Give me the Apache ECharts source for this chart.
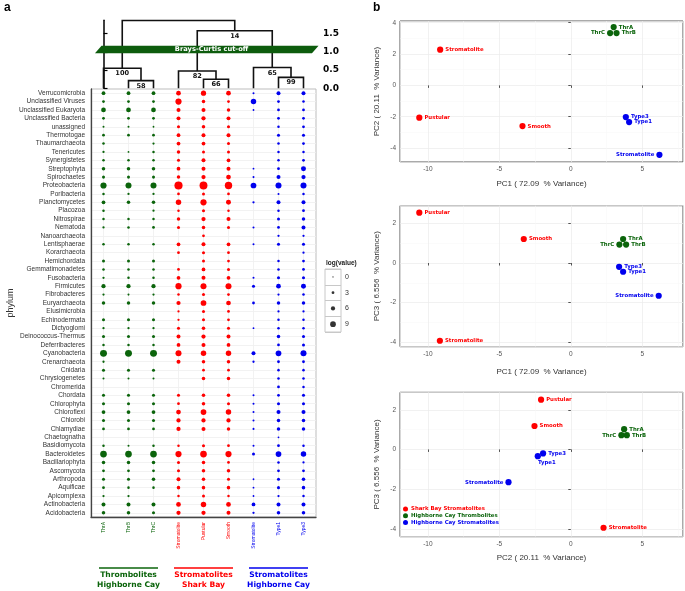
<!DOCTYPE html>
<html><head><meta charset="utf-8">
<script src="https://cdn.jsdelivr.net/npm/echarts@6/dist/echarts.min.js"></script>
<style>html,body{margin:0;padding:0;background:#fff}#c{width:685px;height:591px}</style>
</head><body><div id="c"></div>
<script>
// ---------- DATA ----------
const phyla = ['Verrucomicrobia','Unclassified Viruses','Unclassified Eukaryota','Unclassified Bacteria','unassigned','Thermotogae','Thaumarchaeota','Tenericutes','Synergistetes','Streptophyta','Spirochaetes','Proteobacteria','Poribacteria','Planctomycetes','Placozoa','Nitrospirae','Nematoda','Nanoarchaeota','Lentisphaerae','Korarchaeota','Hemichordata','Gemmatimonadetes','Fusobacteria','Firmicutes','Fibrobacteres','Euryarchaeota','Elusimicrobia','Echinodermata','Dictyoglomi','Deinococcus-Thermus','Deferribacteres','Cyanobacteria','Crenarchaeota','Cnidaria','Chrysiogenetes','Chromerida','Chordata','Chlorophyta','Chloroflexi','Chlorobi','Chlamydiae','Chaetognatha','Basidiomycota','Bacteroidetes','Bacillariophyta','Ascomycota','Arthropoda','Aquificae','Apicomplexa','Actinobacteria','Acidobacteria'];

const sampleIds = ['ThrA','ThrB','ThrC','StromSB','Pustular','Smooth','StromHC','Type1','Type3'];
const sampleLabels = ['ThrA','ThrB','ThrC','Stromatolite','Pustular','Smooth','Stromatolite','Type1','Type3'];
const sampleGroup = [0,0,0,1,1,1,2,2,2];
const groupNames = ['Highborne Cay Thrombolites','Shark Bay Stromatolites','Highborne Cay Stromatolites'];

// log(value) per phylum (same order as phyla), null = absent
const vThrA = [5,3,7,3,1.5,3,2.5,2,2.5,4.5,3.5,10,2.5,5,2.5,2.5,2,null,2.5,null,3.5,2.5,2,6,2,4.5,null,3.5,2,3.5,2.5,11.5,2,3.5,1.5,null,3.5,3.5,5,3.5,3,null,2.5,11,4.5,3,3.5,3,2,5.5,4.5];
const vThrB = [5,3,7,3,1.5,3,null,1,2.5,4.5,3.5,9.6,2,4.5,null,2.5,2.5,null,2.5,null,3.5,2.5,2.5,6,1.5,4.5,null,3.5,2,3.5,2.5,11.5,null,3.5,1.5,null,3.5,3.5,5,3.5,3,null,1.5,11,4.5,3,3.5,2.5,2,5.5,4.5];
const vThrC = [5,3,7,3,1,3,2,2.5,2.5,4.5,3.5,9.6,2,4.5,2,2.5,3,null,2.5,null,3.5,2.5,2.5,6,2,4.5,null,3.5,2,3.5,2.5,11.5,null,3.5,1.5,null,3.5,3.5,5,3.5,3,null,2.5,11,4.5,3,4.5,2.5,null,5.5,3.5];
const vStromSB = [7,10,5.5,5.5,3.5,5,5,4.5,3.5,5,4.5,14,3,8.5,2.5,4.5,3.5,null,5,3,null,3,5,10,2.5,6,2,2,3.5,5.5,5,9.6,5.5,null,null,null,3.5,3,7,6,6,null,2.5,10,3.5,3.5,5.5,4.5,2.5,7,6];
const vPustular = [8,4.5,5.5,6,4.5,5.5,5,3.5,5.5,5.5,6,13.5,3.5,10,3.5,6,4.5,3,5.5,3.5,3.5,5,5.5,9.6,3.5,9,3.5,3.5,4.5,6,5.5,8.5,4.5,3,4.5,null,4.5,4.5,9,6,5.5,null,3.5,11,4.5,4.5,4.5,4.5,3.5,8.5,6];
const vSmooth = [7,3,4.5,5.5,3.5,5.5,3.5,3.5,5,5.5,7,12.5,3,7.5,2.5,5.5,3.5,null,5,3,3,3.5,5,9.6,3,7,3,3,3.5,5.5,5,8.5,4.5,3,4.5,null,4.5,3.5,8.5,6,4.5,null,3,10,3,4.5,3.5,4.5,2.5,7,5.5];
const vStromHC = [1.5,8.5,1,null,null,null,null,null,null,1,1.5,9,null,2,null,null,1.5,null,1.5,null,null,null,1.5,3.5,null,3,null,null,1,null,null,5.5,2,null,null,null,1.5,1.5,1.5,1.5,1.5,null,1.5,3.5,null,null,1,1,1,5,2];
const vType1 = [5.5,3,3,3,2.5,3.5,2.5,2.5,2.5,3,5.5,9.6,1.5,5.5,2.5,3.5,3,2,3.5,null,2.5,2.5,3.5,7,2,4.5,2,2.5,2.5,4.5,3,9,3,2.5,2.5,3,3,3.5,5.5,4.5,4.5,1,3,9,2.5,3,3.5,3.5,2,5.5,4.5];
const vType3 = [5.5,2.5,3,3,3,3.5,3,2.5,3,7.5,6,9.6,2.5,5.5,3,4.5,5.5,2,3.5,2,3,3,3.5,7.5,2.5,4.5,2,2.5,2.5,3.5,3.5,9.6,3,2.5,2.5,2.5,3.5,3.5,5.5,4.5,4.5,null,2.5,8.5,2,3,4.5,4.5,2.5,5.5,4.5];
const sampleValues = [vThrA,vThrB,vThrC,vStromSB,vPustular,vSmooth,vStromHC,vType1,vType3];

const keyTicks = [0,3,6,9];

// dendrogram merges: [leftNode, rightNode, height, bootstrap]; leaves 0..8, merges numbered 9..16
const dendroMerges = [
  [1, 2, 0.21, '58'],
  [0, 9, 0.55, '100'],
  [4, 5, 0.25, '66'],
  [3, 11, 0.475, '82'],
  [7, 8, 0.30, '99'],
  [6, 13, 0.57, '65'],
  [12, 14, 1.58, '14'],
  [10, 15, 1.86, '']
];
const dendroTicks = [0, 0.5, 1.0, 1.5];
const cutoff = 1.065;

// PCA scores [x, y] per sample (sampleIds order)
const pcaPanel1 = [[3.0,3.72],[3.2,3.34],[2.75,3.34],[-9.14,2.28],[-10.6,-2.06],[-3.38,-2.6],[6.2,-4.43],[4.08,-2.34],[3.85,-2.02]];
const pcaPanel2 = [[3.66,1.21],[3.87,0.93],[3.4,0.93],[-9.16,-3.92],[-10.6,2.54],[-3.29,1.21],[6.15,-1.65],[3.66,-0.44],[3.38,-0.19]];
const pcaPanel3 = [[3.73,1.02],[3.92,0.72],[3.54,0.72],[2.29,-3.95],[-2.08,2.51],[-2.54,1.18],[-4.36,-1.65],[-2.31,-0.34],[-1.94,-0.2]];
const pcaNames = [['PC1 ( 72.09  % Variance)','PC2 ( 20.11  % Variance)'],['PC1 ( 72.09  % Variance)','PC3 ( 6.556  % Variance)'],['PC2 ( 20.11  % Variance)','PC3 ( 6.556  % Variance)']];

// ---------- STYLE ----------
const FONT = '"Liberation Sans", Arial, sans-serif';
const BOLD = '"DejaVu Sans", sans-serif';
const groupColors = ['#0b640b','#ff0000','#0000ee'];
const legendOrder = [1,0,2];
const labelLeft = [ {ThrC:1, StromHC:1}, {ThrC:1, StromHC:1}, {ThrC:1, StromHC:1} ];
const labelOffset = [ {}, {}, {Type1:[-5,6]} ];
const bubbleSize = v => 1.3 + 0.49 * v;

const pcaGrids = [
  {left:400, width:283, top:21, height:141, ymin:-4.89, ymax:4.11, gap:18},
  {left:400, width:283, top:205.7, height:141, ymin:-4.22, ymax:2.89, gap:21},
  {left:400, width:283, top:392.3, height:144.4, ymin:-4.4, ymax:2.88, gap:17}
];
const pcaData = [pcaPanel1, pcaPanel2, pcaPanel3];

// ---------- BUILD ----------
const chart = echarts.init(document.getElementById('c'), null, {renderer:'canvas'});

const grids = [
  {left:91, width:225, top:89, height:428, show:true, borderColor:'#bdbdbd', borderWidth:1},
  {left:91, width:225, top:20.2, height:68.1},
  {left:325, width:16, top:269, height:63, show:true, borderColor:'#c8c8c8', borderWidth:1}
];
pcaGrids.forEach(g => grids.push({left:g.left, width:g.width, top:g.top, height:g.height, show:true, borderColor:'#555', borderWidth:1}));

const xAxes = [
  {gridIndex:0, type:'category', data:sampleIds, boundaryGap:true,
   axisLine:{lineStyle:{color:'#444', width:1.3}},
   axisTick:{alignWithLabel:true, length:3, lineStyle:{color:'#444'}},
   axisLabel:{rotate:90, fontSize:5, fontFamily:FONT, margin:5, interval:0,
     formatter:(v,i)=>sampleLabels[i], color:(v,i)=>groupColors[sampleGroup[i]]},
   splitLine:{show:true, alignWithLabel:true, lineStyle:{color:'#efefef', width:0.8}}},
  {gridIndex:1, type:'value', min:-0.5, max:8.5, show:false},
  {gridIndex:2, type:'category', data:['k'], show:false}
];
const yAxes = [
  {gridIndex:0, type:'category', data:phyla, inverse:true, boundaryGap:true,
   name:'phylum', nameLocation:'middle', nameGap:76, nameTextStyle:{fontSize:9, color:'#333', fontFamily:FONT},
   axisLine:{lineStyle:{color:'#444', width:1.3}},
   axisTick:{alignWithLabel:true, length:3, lineStyle:{color:'#444'}},
   axisLabel:{fontSize:6.5, fontFamily:FONT, color:'#333', margin:6, interval:0},
   splitLine:{show:true, alignWithLabel:true, lineStyle:{color:'#efefef', width:0.8}}},
  {gridIndex:1, type:'value', min:0, max:1.87, position:'right', offset:4,
   axisLine:{show:true, lineStyle:{color:'#000', width:1.5}},
   axisTick:{show:true, length:4, customValues:dendroTicks, lineStyle:{color:'#000', width:1.2}},
   axisLabel:{customValues:dendroTicks, formatter:v=>Number(v).toFixed(1), fontSize:9, fontWeight:'bold', fontFamily:BOLD, color:'#000', margin:3},
   splitLine:{show:false}},
  {gridIndex:2, type:'category', data:keyTicks.map(String), inverse:true, position:'right',
   axisLine:{show:false}, axisTick:{show:false},
   axisLabel:{fontSize:7, fontFamily:FONT, color:'#333', margin:4},
   splitLine:{show:true, lineStyle:{color:'#c8c8c8'}}}
];
pcaGrids.forEach((g, p) => {
  xAxes.push({gridIndex:3+p, type:'value', min:-11.95, max:7.85, splitNumber:4,
    name:pcaNames[p][0], nameLocation:'middle', nameGap:g.gap,
    nameTextStyle:{fontSize:8, color:'#333', fontFamily:FONT},
    axisLine:{show:false}, axisTick:{show:true, length:2.5, lineStyle:{color:'#555'}},
    axisLabel:{fontSize:6.5, color:'#555', fontFamily:FONT, margin:4, showMinLabel:false, showMaxLabel:false},
    splitLine:{show:true, lineStyle:{color:'#ebebeb', width:0.7}},
    minorTick:{show:false, splitNumber:2},
    minorSplitLine:{show:true, lineStyle:{color:'#f6f6f6', width:0.5}}});
  yAxes.push({gridIndex:3+p, type:'value', min:g.ymin, max:g.ymax, splitNumber:4,
    name:pcaNames[p][1], nameLocation:'middle', nameGap:19,
    nameTextStyle:{fontSize:8, color:'#333', fontFamily:FONT},
    axisLine:{show:false}, axisTick:{show:true, length:2.5, lineStyle:{color:'#555'}},
    axisLabel:{fontSize:6.5, color:'#555', fontFamily:FONT, margin:4, showMinLabel:false, showMaxLabel:false},
    splitLine:{show:true, lineStyle:{color:'#ebebeb', width:0.7}},
    minorTick:{show:false, splitNumber:2},
    minorSplitLine:{show:true, lineStyle:{color:'#f6f6f6', width:0.5}}});
});

const series = [];
// bubbles
[0,1,2].forEach(g => {
  const data = [];
  sampleValues.forEach((arr, s) => {
    if (sampleGroup[s] !== g) return;
    arr.forEach((v, r) => { if (v !== null) data.push([s, r, v]); });
  });
  series.push({type:'scatter', name:'bubbles-'+g, xAxisIndex:0, yAxisIndex:0, data,
    symbolSize:d=>bubbleSize(d[2]), itemStyle:{color:groupColors[g], opacity:1}, z:3});
});
// key
series.push({type:'scatter', name:'key', xAxisIndex:2, yAxisIndex:2,
  data:keyTicks.map((v,i)=>[0,i,v]), symbolSize:d=>bubbleSize(d[2]), itemStyle:{color:'#000'}});

// dendrogram
const nodeX = sampleIds.map((_,i)=>i), nodeH = sampleIds.map(()=>0);
const dendroData = dendroMerges.map(m => {
  const [a,b,h] = m;
  const item = [nodeX[a], nodeH[a], nodeX[b], nodeH[b], h];
  nodeX.push((nodeX[a]+nodeX[b])/2); nodeH.push(h);
  return item;
});
series.push({type:'custom', name:'dendro', xAxisIndex:1, yAxisIndex:1, clip:false, z:2,
  data:dendroData,
  renderItem:(params, api) => {
    const p1 = api.coord([api.value(0), api.value(1)]);
    const p2 = api.coord([api.value(0), api.value(4)]);
    const p3 = api.coord([api.value(2), api.value(4)]);
    const p4 = api.coord([api.value(2), api.value(3)]);
    const children = [{type:'polyline', shape:{points:[p1,p2,p3,p4]}, style:{stroke:'#111', lineWidth:1.6, fill:null}}];
    const lab = dendroMerges[params.dataIndex][3];
    if (lab) children.push({type:'text', x:(p2[0]+p3[0])/2, y:p2[1]+1.8,
      style:{text:lab, fontSize:6.6, fontWeight:'bold', fontFamily:BOLD, align:'center', verticalAlign:'top', fill:'#111'}});
    return {type:'group', children};
  }});
// cut-off band
series.push({type:'custom', name:'cutoff', xAxisIndex:1, yAxisIndex:1, clip:false, z:4,
  data:[[cutoff]],
  renderItem:(params, api) => {
    const cs = params.coordSys;
    const yt = api.coord([0, api.value(0)+0.105])[1];
    const yb = api.coord([0, api.value(0)-0.105])[1];
    const x0 = cs.x, x1 = cs.x + cs.width;
    return {type:'group', children:[
      {type:'polygon', shape:{points:[[x0+4,yb],[x0+10.5,yt],[x1+2.5,yt],[x1-4,yb]]}, style:{fill:'#0d5c0d'}},
      {type:'text', x:(x0+x1)/2+8, y:(yt+yb)/2, style:{text:'Brays-Curtis cut-off', fontSize:6.7, fontWeight:'bold', fontFamily:BOLD, fill:'#fff', align:'center', verticalAlign:'middle'}}
    ]};
  }});

// PCA
pcaData.forEach((pts, p) => {
  legendOrder.forEach(g => {
    const data = [];
    pts.forEach((xy, s) => {
      if (sampleGroup[s] !== g) return;
      const id = sampleIds[s];
      const item = {value:[xy[0], xy[1], sampleLabels[s]]};
      if (labelLeft[p][id]) item.label = {position:'left'};
      if (labelOffset[p][id]) item.label = Object.assign(item.label||{}, {offset:labelOffset[p][id]});
      data.push(item);
    });
    series.push({type:'scatter', name:groupNames[g], xAxisIndex:3+p, yAxisIndex:3+p, data,
      symbolSize:6.2, itemStyle:{color:groupColors[g], opacity:1}, z:3,
      label:{show:true, formatter:q=>q.value[2], position:'right', distance:2,
        fontSize:5.4, fontWeight:'bold', fontFamily:BOLD, color:groupColors[g]}});
  });
});

chart.setOption({
  animation:false,
  backgroundColor:'#fff',
  grid:grids, xAxis:xAxes, yAxis:yAxes, series,
  legend:{data:legendOrder.map(g=>({name:groupNames[g], textStyle:{color:groupColors[g]}})),
    orient:'vertical', left:403, top:506.5, itemWidth:5, itemHeight:5, itemGap:1.8, icon:'circle',
    selectedMode:false, padding:0,
    textStyle:{fontSize:5.4, fontWeight:'bold', fontFamily:BOLD, padding:[0,0,0,-2]}}
});

// annotations: panel letters, key title, group labels under the bubble plot
const groupDefs = [
  {lines:['Thrombolites','Highborne Cay'], from:0, to:2, g:0},
  {lines:['Stromatolites','Shark Bay'], from:3, to:5, g:1},
  {lines:['Stromatolites','Highborne Cay'], from:6, to:8, g:2}
];
const graphics = [
  {type:'text', left:4, top:2, style:{text:'a', fontSize:12, fontWeight:'bold', fontFamily:FONT, fill:'#000'}},
  {type:'text', left:373, top:2, style:{text:'b', fontSize:12, fontWeight:'bold', fontFamily:FONT, fill:'#000'}},
  {type:'text', left:326, top:260, style:{text:'log(value)', fontSize:6.5, fontWeight:'bold', fontFamily:FONT, fill:'#222'}}
];
groupDefs.forEach(gd => {
  const xa = chart.convertToPixel({xAxisIndex:0}, gd.from) - 4.5;
  const xb = chart.convertToPixel({xAxisIndex:0}, gd.to) + 4.5;
  const c = groupColors[gd.g];
  graphics.push({type:'line', shape:{x1:xa, y1:568, x2:xb, y2:568}, style:{stroke:c, lineWidth:1.4}});
  gd.lines.forEach((t, k) => graphics.push({type:'text', x:(xa+xb)/2, y:575.5+k*9.8,
    style:{text:t, fontSize:7.6, fontWeight:'bold', fontFamily:BOLD, fill:c, align:'center', verticalAlign:'middle'}}));
});
chart.setOption({graphic:graphics});
</script></body></html>
